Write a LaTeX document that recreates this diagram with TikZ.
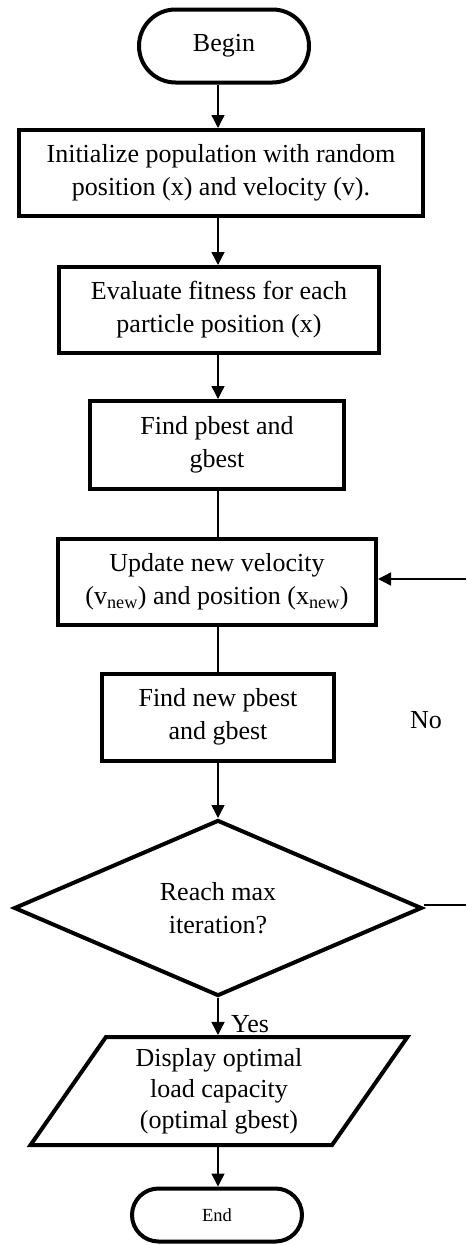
\documentclass[tikz,border=0pt]{standalone}
\usepackage{fontspec}
\setmainfont{Liberation Serif}
\usetikzlibrary{shapes.misc,shapes.geometric,arrows.meta}
\tikzset{
  box/.style={draw, line width=4pt, rectangle, inner sep=2pt, align=center,
    font=\fontsize{26}{33}\selectfont},
  term/.style={draw, line width=4pt, rounded rectangle, inner sep=2pt, align=center},
  arr/.style={line width=1.4pt, -{Triangle[length=13pt,width=13pt]}},
  ln/.style={line width=1.4pt},
  lbl/.style={inner sep=0pt, font=\fontsize{26}{33}\selectfont}
}
\begin{document}
\begin{tikzpicture}[x=1pt,y=-1pt]
\useasboundingbox (0,0) rectangle (466,1245);
\coordinate (axis) at (218,0);
\node[term, minimum width=174, minimum height=73, font=\fontsize{26}{33}\selectfont] (begin) at (224,46) {Begin};
\node[box, minimum width=404, minimum height=86] (init) at (221,173) {Initialize population with random\\position (x) and velocity (v).};
\node[box, minimum width=320, minimum height=86] (eval) at (219,310) {Evaluate fitness for each\\particle position (x)};
\node[box, minimum width=254, minimum height=88] (find) at (217,445) {Find pbest and\\gbest};
\node[box, minimum width=318, minimum height=86] (upd) at (217,582) {Update new velocity\\(v\textsubscript{new}) and position (x\textsubscript{new})};
\node[box, minimum width=232, minimum height=87] (findnew) at (218,717) {Find new pbest\\and gbest};
\node[draw, line width=4pt, diamond, inner sep=0pt, minimum width=408, minimum height=176, align=center, font=\fontsize{26}{33}\selectfont] (dia) at (218,908) {Reach max\\iteration?};
\node[draw, line width=4pt, trapezium, trapezium left angle=57, trapezium right angle=123, trapezium stretches=true, minimum width=378, minimum height=108, inner sep=0pt, align=center, font=\fontsize{26}{31}\selectfont] (disp) at (219,1091) {Display optimal\\load capacity\\(optimal gbest)};
\node[term, minimum width=174, minimum height=53, font=\fontsize{18.5}{22}\selectfont] (end) at (217,1215) {End};
\node[lbl] (no) at (426,720) {No};
\node[lbl, anchor=west] (yes) at (231,1024) {Yes};
\coordinate (eR) at (466,905);
\coordinate (eU) at (466,579);
\draw[arr] (begin.south -| axis) -- (init.north -| axis);
\draw[arr] (init.south -| axis) -- (eval.north -| axis);
\draw[arr] (eval.south -| axis) -- (find.north -| axis);
\draw[ln] (find.south -| axis) -- (upd.north -| axis);
\draw[ln] (upd.south -| axis) -- (findnew.north -| axis);
\draw[arr] (findnew.south -| axis) -- (dia.north);
\draw[arr] (dia.south) -- (disp.north -| dia.south);
\draw[arr] (disp.south -| axis) -- (end.north -| axis);
\draw[ln] (dia.east |- eR) -- (eR);
\draw[arr] (eU) -- (eU -| upd.east);
\end{tikzpicture}
\end{document}
